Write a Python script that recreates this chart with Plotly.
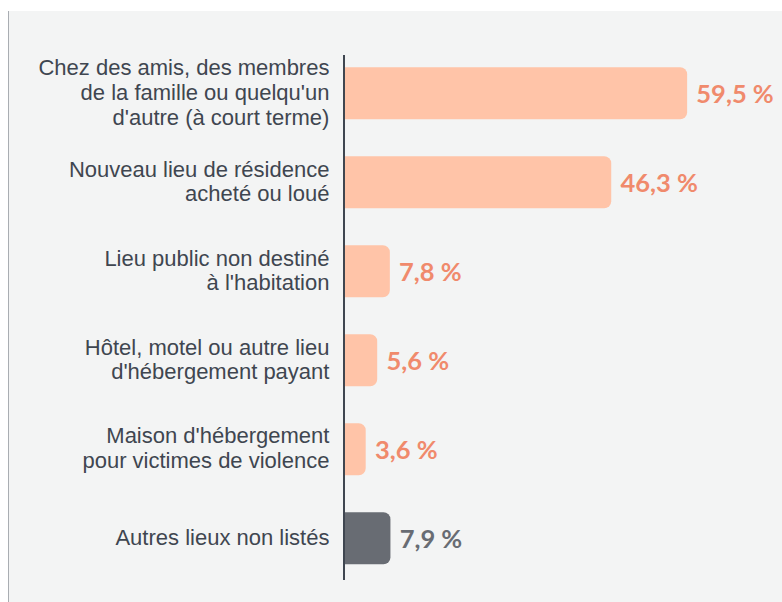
import plotly.graph_objects as go

categories = [
    "Chez des amis, des membres<br>de la famille ou quelqu'un<br>d'autre (à court terme)",
    "Nouveau lieu de résidence<br>acheté ou loué",
    "Lieu public non destiné<br>à l'habitation",
    "Hôtel, motel ou autre lieu<br>d'hébergement payant",
    "Maison d'hébergement<br>pour victimes de violence",
    "Autres lieux non listés",
]
values = [59.5, 46.3, 7.8, 5.6, 3.6, 7.9]
value_labels = ["59,5 %", "46,3 %", "7,8 %", "5,6 %", "3,6 %", "7,9 %"]

bar_colors = ["#FFC4A8"] * 5 + ["#686C73"]
text_colors = ["#F08A6C"] * 5 + ["#686C73"]

FONT = "Lato"
TICK_FONT = "Liberation Sans"
TICK_SIZE = 22


def styled(label):
    return "<br>".join(
        f'<span style="font-size:{TICK_SIZE}px">{line}</span>' for line in label.split("<br>")
    )


fig = go.Figure(
    go.Bar(
        y=categories,
        x=values,
        orientation="h",
        width=0.585,
        marker=dict(color=bar_colors, cornerradius=7, line=dict(width=0)),
        text=["\u00a0" + t for t in value_labels],
        textposition="outside",
        textfont=dict(family=FONT, size=25.5, color=text_colors, weight="bold"),
        constraintext="none",
        cliponaxis=False,
        hoverinfo="skip",
    )
)

W, H = 782, 602
L, R, T, B = 345, 0, 55, 22
pw = W - L - R
ph = H - T - B

fig.update_layout(
    width=W,
    height=H,
    margin=dict(l=L, r=R, t=T, b=B, pad=0),
    paper_bgcolor="#F3F4F4",
    plot_bgcolor="rgba(0,0,0,0)",
    showlegend=False,
    font=dict(family=FONT, color="#3F4650"),
    xaxis=dict(
        range=[0, pw / 5.75],
        visible=False,
        fixedrange=True,
    ),
    yaxis=dict(
        type="category",
        categoryorder="array",
        categoryarray=categories,
        tickvals=categories,
        ticktext=[styled(c) for c in categories],
        range=[5.47, -0.43],
        showline=True,
        linecolor="#3F4650",
        linewidth=1.5,
        showgrid=False,
        zeroline=False,
        ticks="",
        ticklabelstandoff=10,
        tickfont=dict(family=TICK_FONT, size=19, color="#3F4650"),
        fixedrange=True,
    ),
)

# white strips at top and left of the gray panel, with thin left border
fig.add_shape(type="rect", xref="paper", yref="paper",
              x0=-L / pw - 0.1, x1=1.1, y0=(H - 11 - B) / ph, y1=(H + 5 - B) / ph,
              fillcolor="white", line=dict(width=0), layer="below")
fig.add_shape(type="rect", xref="paper", yref="paper",
              x0=-L / pw - 0.1, x1=(8 - L) / pw, y0=-B / ph - 0.1, y1=(H + 5 - B) / ph,
              fillcolor="white", line=dict(width=0), layer="below")
fig.add_shape(type="line", xref="paper", yref="paper",
              x0=(8.5 - L) / pw, x1=(8.5 - L) / pw, y0=-B / ph - 0.1, y1=(H - 11 - B) / ph,
              line=dict(color="#A9ADB2", width=1), layer="below")

fig.write_html(
    "out.html",
    config={"displayModeBar": False},
    post_script="document.body.style.margin='0';document.body.style.overflow='hidden';",
)
